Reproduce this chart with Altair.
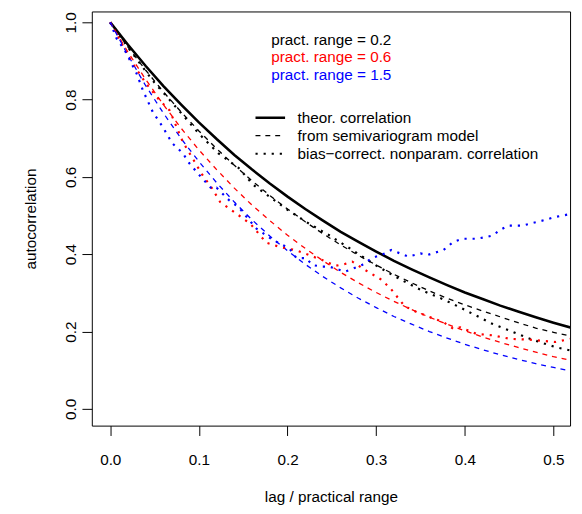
import altair as alt
import pandas as pd

# ---------------- data ----------------
lag_grid = [0.00, 0.02, 0.04, 0.06, 0.08, 0.10, 0.12, 0.14, 0.16, 0.18, 0.20, 0.22, 0.24,
            0.26, 0.28, 0.30, 0.32, 0.34, 0.36, 0.38, 0.40, 0.42, 0.44, 0.46, 0.48, 0.50, 0.52]

theor_corr = [1.000, 0.942, 0.887, 0.835, 0.787, 0.741, 0.698, 0.657, 0.619, 0.583, 0.549, 0.517, 0.487,
              0.458, 0.432, 0.407, 0.383, 0.361, 0.340, 0.320, 0.301, 0.284, 0.267, 0.252, 0.237, 0.223, 0.210]

model_02 = [1.000, 0.936, 0.876, 0.820, 0.768, 0.719, 0.673, 0.630, 0.590, 0.552, 0.517, 0.484, 0.453,
            0.424, 0.397, 0.372, 0.348, 0.326, 0.305, 0.286, 0.269, 0.253, 0.238, 0.223, 0.209, 0.198, 0.188]
model_06 = [1.000, 0.923, 0.852, 0.787, 0.726, 0.670, 0.619, 0.571, 0.527, 0.487, 0.449, 0.415, 0.383,
            0.353, 0.326, 0.301, 0.278, 0.257, 0.237, 0.219, 0.202, 0.186, 0.172, 0.159, 0.147, 0.135, 0.125]
model_15 = [1.000, 0.915, 0.836, 0.765, 0.699, 0.640, 0.585, 0.535, 0.489, 0.447, 0.409, 0.374, 0.342,
            0.313, 0.286, 0.262, 0.239, 0.219, 0.200, 0.183, 0.167, 0.153, 0.140, 0.128, 0.117, 0.107, 0.098]

np_lag_02 = [0.000, 0.020, 0.048, 0.074, 0.100, 0.122, 0.145, 0.161, 0.180, 0.200, 0.220, 0.247,
             0.273, 0.302, 0.328, 0.352, 0.376, 0.395, 0.413, 0.431, 0.451, 0.468, 0.484, 0.502, 0.519]
np_corr_02 = [1.000, 0.935, 0.849, 0.781, 0.712, 0.661, 0.623, 0.580, 0.548, 0.515, 0.485, 0.449,
              0.411, 0.368, 0.334, 0.306, 0.283, 0.262, 0.241, 0.220, 0.202, 0.186, 0.173, 0.160, 0.151]

np_lag_06 = [0.000, 0.013, 0.026, 0.041, 0.055, 0.067, 0.082, 0.095, 0.104, 0.115, 0.124, 0.143,
             0.158, 0.176, 0.191, 0.210, 0.222, 0.239, 0.254, 0.265, 0.273, 0.287, 0.306, 0.317,
             0.332, 0.343, 0.362, 0.376, 0.387, 0.395, 0.413, 0.432, 0.451, 0.473, 0.502, 0.519]
np_corr_06 = [1.000, 0.945, 0.891, 0.840, 0.800, 0.772, 0.690, 0.640, 0.605, 0.570, 0.535, 0.504,
              0.479, 0.430, 0.419, 0.410, 0.400, 0.385, 0.370, 0.375, 0.381, 0.360, 0.334, 0.309,
              0.266, 0.253, 0.236, 0.224, 0.207, 0.211, 0.194, 0.190, 0.181, 0.179, 0.173, 0.181]

np_lag_15 = [0.000, 0.007, 0.018, 0.030, 0.037, 0.048, 0.059, 0.070, 0.082, 0.089, 0.100, 0.115,
             0.120, 0.134, 0.145, 0.154, 0.165, 0.172, 0.184, 0.191, 0.202, 0.210, 0.221, 0.228,
             0.239, 0.247, 0.258, 0.265, 0.284, 0.295, 0.310, 0.317, 0.336, 0.350, 0.358, 0.376,
             0.387, 0.397, 0.413, 0.425, 0.432, 0.439, 0.449, 0.465, 0.475, 0.491, 0.501, 0.519]
np_corr_15 = [1.000, 0.959, 0.921, 0.866, 0.823, 0.768, 0.730, 0.687, 0.661, 0.636, 0.606, 0.568,
              0.572, 0.540, 0.521, 0.496, 0.466, 0.455, 0.436, 0.428, 0.415, 0.390, 0.390, 0.372,
              0.368, 0.368, 0.360, 0.355, 0.372, 0.390, 0.402, 0.411, 0.394, 0.402, 0.398, 0.411,
              0.432, 0.440, 0.440, 0.445, 0.449, 0.462, 0.474, 0.474, 0.480, 0.489, 0.496, 0.504]

ranges = ["0.2", "0.6", "1.5"]
range_colors = ["#000000", "#FF0000", "#0000FF"]
x_ticks = [0.0, 0.1, 0.2, 0.3, 0.4, 0.5]
y_ticks = [0.0, 0.2, 0.4, 0.6, 0.8, 1.0]
legend_ranges = ["pract. range = 0.2", "pract. range = 0.6", "pract. range = 1.5"]
legend_lines = ["theor. correlation", "from semivariogram model",
                "bias\u2212correct. nonparam. correlation"]

# ---------------- tables ----------------
theor_df = pd.DataFrame({"lag": lag_grid, "corr": theor_corr})
model_df = pd.concat([
    pd.DataFrame({"lag": lag_grid, "corr": vals, "range": r, "order": range(len(lag_grid))})
    for r, vals in zip(ranges, [model_02, model_06, model_15])
])
np_df = pd.concat([
    pd.DataFrame({"lag": lg, "corr": vals, "range": r, "order": range(len(lg))})
    for r, lg, vals in zip(ranges, [np_lag_02, np_lag_06, np_lag_15],
                           [np_corr_02, np_corr_06, np_corr_15])
])

FONT = "Liberation Sans"
FS = 15.5

xscale = alt.Scale(domain=[-0.0208, 0.5187], nice=False, zero=False)
yscale = alt.Scale(domain=[-0.0434, 1.0281], nice=False, zero=False)
cscale = alt.Scale(domain=ranges, range=range_colors)

xaxis = alt.Axis(values=x_ticks, format=".1f", title="lag / practical range",
                 tickSize=10, labelPadding=17, titlePadding=22, domain=False, grid=False)
yaxis = alt.Axis(values=y_ticks, format=".1f", title="autocorrelation", labelAngle=-90,
                 tickSize=10, labelPadding=4, titlePadding=25, domain=False, grid=False)

X = alt.X("lag:Q", scale=xscale, axis=xaxis)
Y = alt.Y("corr:Q", scale=yscale, axis=yaxis)

theor = alt.Chart(theor_df).mark_line(color="black", strokeWidth=2.6, clip=True).encode(
    x=X, y=Y)

model = alt.Chart(model_df).mark_line(strokeWidth=1.3, strokeDash=[5, 5], clip=True).encode(
    x=alt.X("lag:Q", scale=xscale), y=alt.Y("corr:Q", scale=yscale),
    color=alt.Color("range:N", scale=cscale, legend=None),
    detail="range:N", order="order:Q")

nonpar = alt.Chart(np_df).mark_line(strokeWidth=2.2, strokeDash=[2.2, 6], clip=True).encode(
    x=alt.X("lag:Q", scale=xscale), y=alt.Y("corr:Q", scale=yscale),
    color=alt.Color("range:N", scale=cscale, legend=None),
    detail="range:N", order="order:Q")

one = pd.DataFrame({"a": [0]})

texts = []
for i, (lab, col) in enumerate(zip(legend_ranges, range_colors)):
    texts.append(alt.Chart(one).mark_text(align="left", baseline="middle", font=FONT,
                                          fontSize=FS, color=col).encode(
        x=alt.value(182), y=alt.value(29 + 17.5 * i), text=alt.value(lab)))

dashes = [[1, 0], [5, 5], [2.2, 6]]
widths = [2.6, 1.3, 2.2]
for i, lab in enumerate(legend_lines):
    yy = 107.7 + 18.3 * i
    texts.append(alt.Chart(one).mark_rule(color="black", strokeWidth=widths[i],
                                          strokeDash=dashes[i]).encode(
        x=alt.value(166), x2=alt.value(196), y=alt.value(yy)))
    texts.append(alt.Chart(one).mark_text(align="left", baseline="middle", font=FONT,
                                          fontSize=FS, color="black").encode(
        x=alt.value(208.7), y=alt.value(yy), text=alt.value(lab)))

chart = alt.layer(theor, model, nonpar, *texts).properties(
    width=485, height=420,
    autosize=alt.AutoSizeParams(type="none"),
    padding={"left": 85, "top": 0, "right": 4, "bottom": 78},
    background="white",
).configure_view(
    stroke="black", strokeWidth=1
).configure_axis(
    labelFont=FONT, titleFont=FONT, labelFontSize=FS, titleFontSize=FS,
    labelColor="black", titleColor="black", tickColor="black", tickWidth=1,
    titleFontWeight="normal"
)

chart.save("out.html", embed_options={"renderer": "svg", "actions": False})
